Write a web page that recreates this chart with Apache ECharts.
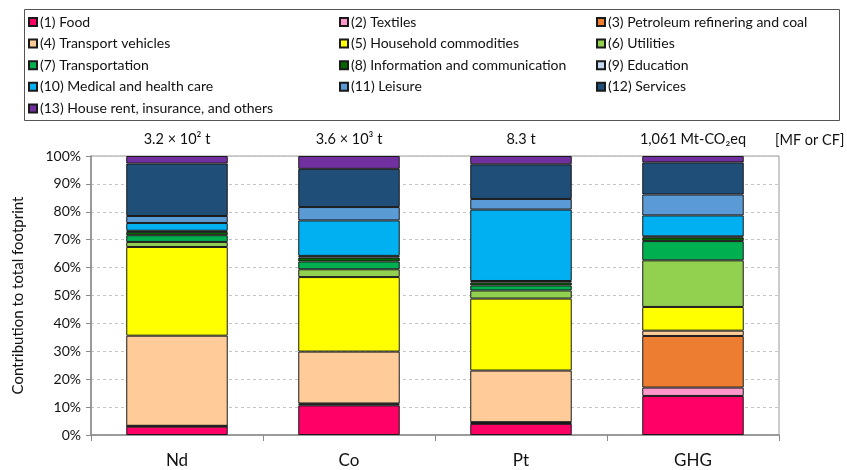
<!DOCTYPE html>
<html>
<head>
<meta charset="utf-8">
<script src="https://cdn.jsdelivr.net/npm/echarts@6/dist/echarts.min.js"></script>
<style>
  html, body { margin: 0; padding: 0; background: #fff; }
  #chart { width: 847px; height: 470px; }
</style>
</head>
<body>
<div id="chart"></div>
<script>
// Footprint categories and the total footprint printed above each bar
const categories = ['Nd', 'Co', 'Pt', 'GHG'];
const totals = ['3.2 × 10² t', '3.6 × 10³ t', '8.3 t', '1,061 Mt-CO₂eq'];
const yTicks = [0, 10, 20, 30, 40, 50, 60, 70, 80, 90, 100];

// Share of each consumption sector in the total footprint (%), order: Nd, Co, Pt, GHG
const sectorNames = [
  '(1) Food', '(2) Textiles', '(3) Petroleum refinering and coal',
  '(4) Transport vehicles', '(5) Household commodities', '(6) Utilities',
  '(7) Transportation', '(8) Information and communication', '(9) Education',
  '(10) Medical and health care', '(11) Leisure', '(12) Services',
  '(13) House rent, insurance, and others'
];
const food           = [3.0, 10.6, 4.0, 14.0];
const textiles       = [0.2, 0.4, 0.3, 3.0];
const petroleum      = [0.1, 0.3, 0.3, 18.5];
const transportVeh   = [32.3, 18.6, 18.5, 1.9];
const household      = [31.8, 26.7, 25.8, 8.5];
const utilities      = [1.8, 2.8, 2.9, 16.7];
const transportation = [2.4, 2.8, 1.8, 6.9];
const infoComm       = [1.2, 1.4, 1.1, 1.3];
const education      = [0.4, 0.6, 0.5, 0.4];
const medical        = [2.8, 12.7, 25.6, 7.5];
const leisure        = [2.5, 4.8, 3.8, 7.5];
const services       = [18.8, 13.7, 12.4, 11.5];
const houseRent      = [2.7, 4.6, 3.0, 2.3];

const sectorValues = [food, textiles, petroleum, transportVeh, household, utilities,
  transportation, infoComm, education, medical, leisure, services, houseRent];
const sectorColors = ['#FF0066', '#FF99CC', '#ED7D31', '#FFCC99', '#FFFF00', '#92D050',
  '#00B050', '#006600', '#C5D9F1', '#00B0F0', '#5B9BD5', '#1F4E78', '#7030A0'];

const FONT = 'Lato, "Open Sans", "Liberation Sans", sans-serif';

const series = sectorNames.map((name, i) => ({
  name: name,
  type: 'bar',
  stack: 'total',
  barWidth: '59%',
  data: sectorValues[i],
  itemStyle: { color: sectorColors[i], borderColor: '#1a1a1a', borderWidth: 1 },
  emphasis: { disabled: true }
}));

// Legend laid out as three columns, filled row by row
const legendCols = [0, 1, 2].map(c => sectorNames.filter((_, i) => i % 3 === c));
const legendLeft = [23, 334, 591];
const legends = legendCols.map((names, c) => ({
  data: names,
  orient: 'vertical',
  left: legendLeft[c],
  top: 10,
  icon: 'rect',
  itemWidth: 8,
  itemHeight: 8,
  itemGap: 7.6,
  selectedMode: false,
  textStyle: { fontFamily: FONT, fontSize: 14, color: '#111', lineHeight: 14, padding: [0, 0, 0, -2] }
}));

const chart = echarts.init(document.getElementById('chart'), null, { renderer: 'canvas' });
chart.setOption({
  animation: false,
  backgroundColor: '#fff',
  legend: legends,
  grid: {
    left: 91, right: 68, top: 156, bottom: 35,
    show: true, borderColor: '#9a9a9a', borderWidth: 1, backgroundColor: 'transparent'
  },
  xAxis: [
    {
      type: 'category',
      data: categories,
      position: 'bottom',
      axisLine: { lineStyle: { color: '#8a8a8a', width: 1.5 } },
      axisTick: { show: true, length: 6, lineStyle: { color: '#8a8a8a' } },
      axisLabel: { fontFamily: FONT, fontSize: 17, color: '#111', margin: 17 }
    },
    {
      type: 'category',
      data: totals,
      position: 'top',
      axisLine: { show: false },
      axisTick: { show: false },
      axisLabel: { fontFamily: FONT, fontSize: 14.5, color: '#111', margin: 9 }
    }
  ],
  yAxis: {
    type: 'value',
    min: yTicks[0],
    max: yTicks[yTicks.length - 1],
    interval: 10,
    name: 'Contribution to total footprint',
    nameLocation: 'middle',
    nameGap: 65,
    nameTextStyle: { fontFamily: FONT, fontSize: 15, color: '#111' },
    axisLine: { show: true, lineStyle: { color: '#8a8a8a', width: 1.5 } },
    axisTick: { show: true, length: 5, lineStyle: { color: '#8a8a8a' } },
    axisLabel: { fontFamily: FONT, fontSize: 14, color: '#111', margin: 10, formatter: '{value}%' },
    splitLine: { show: true, lineStyle: { color: '#c4c4c4', type: [3, 3], width: 1 } }
  },
  graphic: [
    {
      type: 'rect',
      left: 22, top: 7,
      shape: { width: 815, height: 111 },
      style: { fill: 'none', stroke: '#555', lineWidth: 1 },
      silent: true
    },
    {
      type: 'text',
      left: 775, top: 133,
      style: { text: '[MF or CF]', fontFamily: FONT, fontSize: 14.5, fill: '#111' },
      silent: true
    }
  ],
  series: series
});
</script>
</body>
</html>
